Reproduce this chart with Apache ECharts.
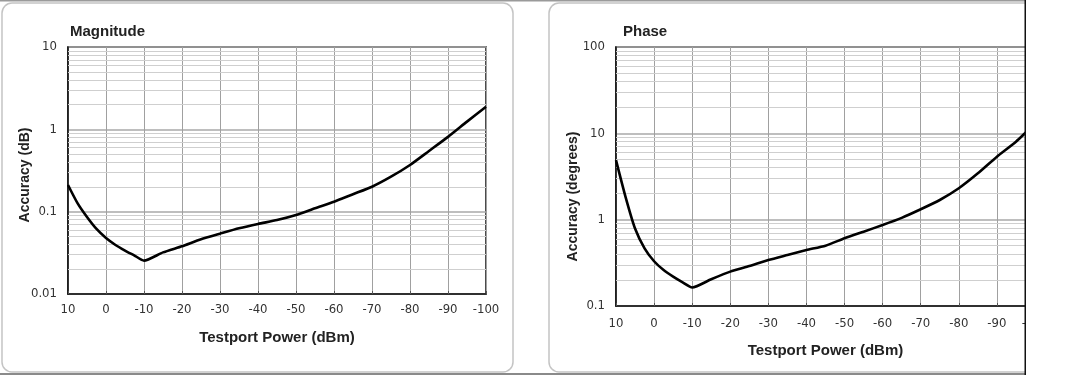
<!DOCTYPE html>
<html>
<head>
<meta charset="utf-8">
<script src="https://cdn.jsdelivr.net/npm/echarts@6/dist/echarts.min.js"></script>
<style>
html,body{margin:0;padding:0;background:#fff;}
#chart{width:1065px;height:375px;}
</style>
</head>
<body>
<div id="chart"></div>
<script>
// ---- data ----
var power = [10, 7.5, 5, 2.5, 0, -2.5, -5, -7.5, -10, -15, -20, -25, -30, -35, -40, -45, -50, -55, -60, -65, -70, -75, -80, -85, -90, -95, -100];
var magnitudeDb = [0.211, 0.127, 0.0861, 0.0616, 0.0479, 0.0394, 0.0337, 0.0293, 0.0254, 0.032, 0.038, 0.0462, 0.054, 0.0628, 0.071, 0.079, 0.091, 0.11, 0.132, 0.163, 0.201, 0.266, 0.369, 0.546, 0.81, 1.24, 1.88];
var phaseDeg = [4.9, 1.84, 0.79, 0.466, 0.33, 0.261, 0.219, 0.188, 0.164, 0.204, 0.25, 0.29, 0.341, 0.39, 0.445, 0.5, 0.608, 0.726, 0.867, 1.05, 1.32, 1.69, 2.31, 3.44, 5.37, 8.0, 13];
var magDecades = [0.01, 0.1, 1];
var phaseDecades = [0.1, 1, 10];
var mantissas = [2, 3, 4, 5, 6, 7, 8, 9];
var titles = ['Magnitude', 'Phase'];
var yNames = ['Accuracy (dB)', 'Accuracy (degrees)'];
var xName = 'Testport Power (dBm)';

function minorLines(decades) {
  var out = [];
  decades.forEach(function (d) {
    mantissas.forEach(function (m) { out.push({ yAxis: +(d * m).toPrecision(3) }); });
  });
  return out;
}
function pairs(xs, ys) { return xs.map(function (x, i) { return [x, ys[i]]; }); }

var numFont = "'Liberation Sans Narrow','DejaVu Sans Condensed','Liberation Sans',sans-serif";
var boldFont = "'Liberation Sans','Arial',sans-serif";

function xAxisCfg(gi, margin, gap) {
  return {
    type: 'value', gridIndex: gi, min: -100, max: 10, interval: 10, inverse: true,
    name: xName, nameLocation: 'middle', nameGap: gap, nameMoveOverlap: false,
    nameTextStyle: { fontFamily: boldFont, fontWeight: 'bold', fontSize: 15, color: '#222' },
    axisLine: { show: true, onZero: false, lineStyle: { color: '#111', width: 1.5 } },
    axisTick: { show: true, inside: true, length: 3, lineStyle: { color: '#555' } },
    axisLabel: { fontFamily: numFont, fontSize: 13, color: '#333', margin: margin },
    splitLine: { show: true, lineStyle: { color: '#a0a0a0', width: 1 } }
  };
}
function yAxisCfg(gi, min, max, name, pad) {
  return {
    type: 'log', logBase: 10, gridIndex: gi, min: min, max: max,
    name: name, nameLocation: 'middle', nameGap: 36, nameMoveOverlap: false,
    nameTextStyle: { fontFamily: boldFont, fontWeight: 'bold', fontSize: 14, color: '#222', padding: pad },
    axisLine: { show: true, onZero: false, lineStyle: { color: '#111', width: 1.5 } },
    axisTick: { show: false },
    axisLabel: { fontFamily: numFont, fontSize: 13, color: '#333', margin: 11,
      formatter: function (v) { return String(+(+v).toPrecision(3)); } },
    splitLine: { show: true, lineStyle: { color: '#a8a8a8', width: 1.5 } }
  };
}
function gridSeries(gi, decades) {
  return {
    type: 'line', xAxisIndex: gi, yAxisIndex: gi, data: [], silent: true, z: 1,
    markLine: { silent: true, symbol: ['none', 'none'], label: { show: false },
      lineStyle: { color: '#cfcfcf', width: 1, type: 'solid' },
      emphasis: { disabled: true },
      data: minorLines(decades) }
  };
}
function curveSeries(gi, ys) {
  return {
    type: 'line', xAxisIndex: gi, yAxisIndex: gi, data: pairs(power, ys),
    showSymbol: false, smooth: 0.2, z: 5, silent: true,
    lineStyle: { color: '#000', width: 2.6 }
  };
}

var chart = echarts.init(document.getElementById('chart'), null, { renderer: 'canvas' });
chart.setOption({
  animation: false,
  backgroundColor: '#fff',
  title: [
    { text: titles[0], left: 70, top: 24, padding: 0, textStyle: { fontFamily: boldFont, fontWeight: 'bold', fontSize: 15, color: '#222' } },
    { text: titles[1], left: 623, top: 24, padding: 0, textStyle: { fontFamily: boldFont, fontWeight: 'bold', fontSize: 15, color: '#222' } }
  ],
  grid: [
    { left: 68, top: 47, width: 418, height: 247, show: true, borderColor: '#111', borderWidth: 1.5, backgroundColor: 'transparent' },
    { left: 616, top: 47, width: 419, height: 259, show: true, borderColor: '#111', borderWidth: 1.5, backgroundColor: 'transparent' }
  ],
  xAxis: [xAxisCfg(0, 9, 36), xAxisCfg(1, 11, 37)],
  yAxis: [yAxisCfg(0, 0.01, 10, yNames[0], [0, 9, 0, 0]), yAxisCfg(1, 0.1, 100, yNames[1], [0, 40, 0, 0])],
  series: [
    gridSeries(0, magDecades), curveSeries(0, magnitudeDb),
    gridSeries(1, phaseDecades), curveSeries(1, phaseDeg)
  ],
  graphic: [
    { type: 'rect', z: 0, shape: { x: 2, y: 3, width: 511, height: 369, r: 10 }, style: { fill: 'none', stroke: '#c4c4c4', lineWidth: 1.5 } },
    { type: 'rect', z: 0, shape: { x: 549, y: 3, width: 530, height: 369, r: 10 }, style: { fill: 'none', stroke: '#c4c4c4', lineWidth: 1.5 } },
    { type: 'rect', z: 100, shape: { x: 0, y: 0, width: 1026, height: 1.5 }, style: { fill: '#9a9a9a' } },
    { type: 'rect', z: 100, shape: { x: 0, y: 373, width: 1026, height: 2 }, style: { fill: '#8a8a8a' } },
    { type: 'rect', z: 100, shape: { x: 1026, y: 0, width: 39, height: 375 }, style: { fill: '#fff' } },
    { type: 'rect', z: 100, shape: { x: 1024.5, y: 0, width: 1.5, height: 375 }, style: { fill: '#111' } }
  ]
});
</script>
</body>
</html>
